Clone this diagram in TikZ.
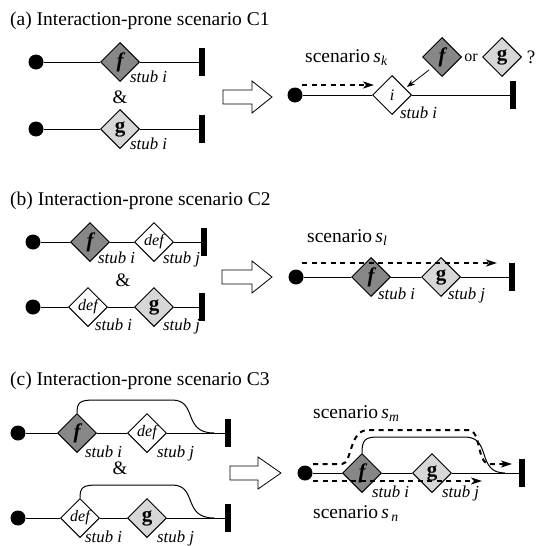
\documentclass[tikz,border=0pt]{standalone}
\usepackage{fontspec}
\setmainfont{Liberation Serif}
\usetikzlibrary{shapes.geometric,arrows.meta}
\definecolor{dkgray}{RGB}{135,135,135}
\definecolor{ltgray}{RGB}{215,215,215}
\newcommand\scn[2]{scenario\,\textit{#1}\textsubscript{\textit{#2}}}
\tikzset{
 dia/.style={diamond, draw, line width=1pt, minimum width=39pt, minimum height=39pt, inner sep=0pt, font=\fontsize{20}{20}\selectfont},
 dk/.style={dia, fill=dkgray, font=\fontsize{21}{21}\selectfont\bfseries\itshape},
 lt/.style={dia, fill=ltgray, font=\fontsize{21}{21}\selectfont\bfseries},
 wt/.style={dia, fill=white, font=\fontsize{16}{16}\selectfont\itshape},
 startpt/.style={circle, fill=black, minimum size=15pt, inner sep=0pt},
 endbar/.style={rectangle, fill=black, minimum width=6pt, minimum height=28pt, inner sep=0pt},
 ucm/.style={line width=1pt},
 stub/.style={anchor=base west, font=\fontsize{16.8}{17}\selectfont\itshape, inner sep=0pt},
 ttl/.style={anchor=base west, font=\fontsize{19.5}{20}\selectfont, inner sep=0pt},
 amp/.style={font=\fontsize{19}{20}\selectfont, inner sep=0pt},
 dsh/.style={line width=2pt, dash pattern=on 5pt off 4.5pt, -{Stealth[length=11pt,width=7pt,inset=3pt]}},
 blk/.style={draw, fill=white, line width=0.8pt, line join=miter},
}
\begin{document}
\begin{tikzpicture}[x=1pt,y=-1pt]
\useasboundingbox (0,0) rectangle (536,546);
% ---------- (a)
\node[ttl] (ta) at (10,25) {(a) Interaction-prone scenario C1};
\node[startpt] (a1s) at (36,62) {};
\node[dk] (a1f) at (120,62) {f};
\node[endbar] (a1e) at (202,62) {};
\draw[ucm] (a1s) -- (a1f) -- (a1e);
\node[stub] (a1l) at (130,82) {stub i};
\node[amp] (aamp) at (120,97) {\&};
\node[startpt] (a2s) at (36,129) {};
\node[lt] (a2g) at (120,129) {g};
\node[endbar] (a2e) at (202,129) {};
\draw[ucm] (a2s) -- (a2g) -- (a2e);
\node[stub] (a2l) at (130,149) {stub i};
\draw[blk] (223,90) -- (252,90) -- (252,81) -- (272,97) -- (252,113) -- (252,104) -- (223,104) -- cycle;
\node[startpt] (a3s) at (295,95) {};
\node[wt] (a3i) at (392,95) {i};
\node[endbar] (a3e) at (513,95) {};
\draw[ucm] (a3s) -- (a3i) -- (a3e);
\node[stub] (a3l) at (400,118) {stub i};
\node[ttl] (ask) at (305,62) {\scn{s}{k}};
\node[dk] (a3f) at (442,57) {f};
\node[amp, font=\fontsize{16}{16}\selectfont] (aor) at (471,58) {or};
\node[lt] (a3g) at (502,57) {g};
\node[amp] (aq) at (531,57) {?};
\coordinate (a3d0) at (302,85);
\coordinate (a3d1) at (374,85);
\draw[dsh] (a3d0) -- (a3d1);
\draw[ucm, line width=0.8pt, -{Stealth[length=8pt,width=6pt]}] ([shift={(-3,3)}]a3f.south west) -- ([shift={(5,2)}]a3i.north east);
% ---------- (b)
\node[ttl] (tb) at (10,205) {(b) Interaction-prone scenario C2};
\node[startpt] (b1s) at (33,242) {};
\node[dk] (b1f) at (90,242) {f};
\node[wt] (b1d) at (154,242) {def};
\node[endbar] (b1e) at (204,242) {};
\draw[ucm] (b1s) -- (b1f) -- (b1d) -- (b1e);
\node[stub] (b1l) at (98,263) {stub i};
\node[stub] (b1m) at (163,263) {stub j};
\node[amp] (bamp) at (123,280) {\&};
\node[startpt] (b2s) at (33,307) {};
\node[wt] (b2d) at (88,307) {def};
\node[lt] (b2g) at (154,307) {g};
\node[endbar] (b2e) at (202,307) {};
\draw[ucm] (b2s) -- (b2d) -- (b2g) -- (b2e);
\node[stub] (b2l) at (95,330) {stub i};
\node[stub] (b2m) at (163,330) {stub j};
\draw[blk] (222,270) -- (252,270) -- (252,261) -- (272,277) -- (252,293) -- (252,284) -- (222,284) -- cycle;
\node[startpt] (b3s) at (296,277) {};
\node[dk] (b3f) at (371,277) {f};
\node[lt] (b3g) at (441,277) {g};
\node[endbar] (b3e) at (512,277) {};
\draw[ucm] (b3s) -- (b3f) -- (b3g) -- (b3e);
\node[stub] (b3l) at (378,299) {stub i};
\node[stub] (b3m) at (448,299) {stub j};
\node[ttl] (bsl) at (307,242) {\scn{s}{l}};
\coordinate (b3d0) at (302,263);
\coordinate (b3d1) at (497,263);
\draw[dsh] (b3d0) -- (b3d1);
% ---------- (c)
\node[ttl] (tc) at (10,385) {(c) Interaction-prone scenario C3};
\node[startpt] (c1s) at (18,433) {};
\node[dk] (c1f) at (77,433) {f};
\node[wt] (c1d) at (147,433) {def};
\node[endbar] (c1e) at (228,433) {};
\draw[ucm] (c1s) -- (c1f) -- (c1d) -- (c1e);
\draw[ucm] (c1f.north) .. controls (77,402) and (80,400) .. (95,400) -- (172,400) .. controls (198,400) and (182,433) .. (214,433);
\node[stub] (c1l) at (85,457) {stub i};
\node[stub] (c1m) at (157,457) {stub j};
\node[amp] (camp) at (120,468) {\&};
\node[startpt] (c2s) at (18,518) {};
\node[wt] (c2d) at (80,518) {def};
\node[lt] (c2g) at (147,518) {g};
\node[endbar] (c2e) at (228,518) {};
\draw[ucm] (c2s) -- (c2d) -- (c2g) -- (c2e);
\draw[ucm] (c2d.north) .. controls (80,487) and (83,485) .. (98,485) -- (172,485) .. controls (198,485) and (182,518) .. (214,518);
\node[stub] (c2l) at (85,542) {stub i};
\node[stub] (c2m) at (157,542) {stub j};
\draw[blk] (230,466) -- (258,466) -- (258,457) -- (281,473) -- (258,489) -- (258,480) -- (230,480) -- cycle;
\node[startpt] (c3s) at (305,473) {};
\node[dk] (c3f) at (362,473) {f};
\node[lt] (c3g) at (432,473) {g};
\node[endbar] (c3e) at (522,473) {};
\draw[ucm] (c3s) -- (c3f) -- (c3g) -- (c3e);
\draw[ucm] (c3f.north) .. controls (362,440) and (365,437) .. (378,437) -- (465,437) .. controls (492,437) and (476,473) .. (505,473);
\node[stub] (c3l) at (372,497) {stub i};
\node[stub] (c3m) at (442,497) {stub j};
\node[ttl] (csm) at (313,418) {\scn{s}{m}};
\node[ttl] (csn) at (313,518) {\scn{s}{\,n}};
\coordinate (c3u0) at (313,464);
\coordinate (c3u1) at (512,464);
\draw[dsh] (c3u0) -- (342,464) .. controls (352,464) and (349,430) .. (368,430) -- (468,430) .. controls (482,430) and (476,464) .. (490,464) -- (c3u1);
\coordinate (c3l0) at (313,481);
\coordinate (c3l1) at (482,481);
\draw[dsh] (c3l0) -- (c3l1);
\end{tikzpicture}
\end{document}
